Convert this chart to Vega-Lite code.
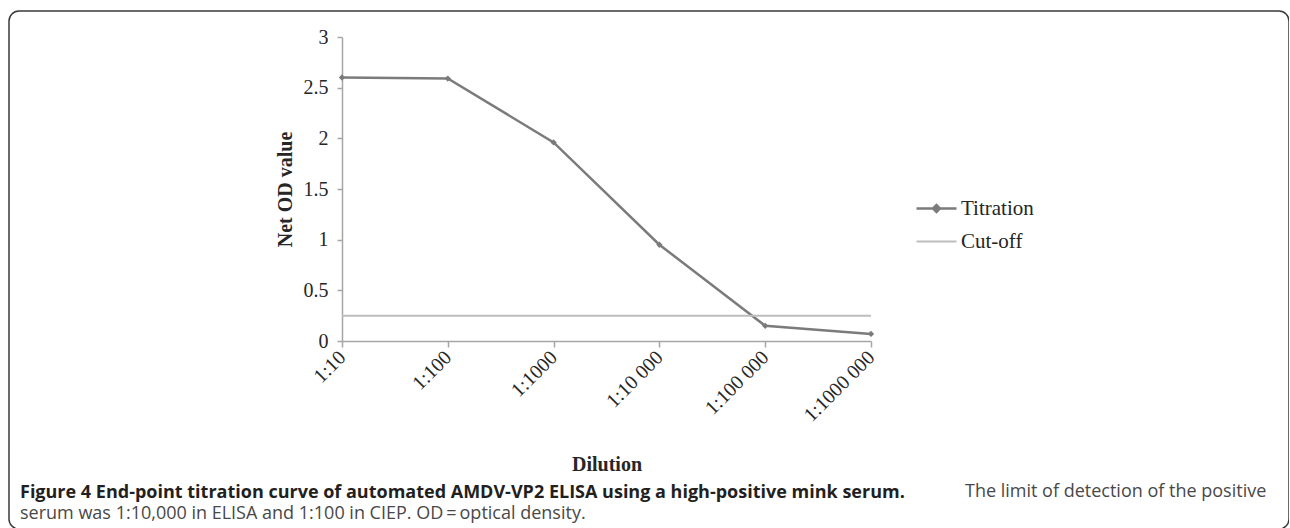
{
  "$schema": "https://vega.github.io/schema/vega-lite/v6.json",
  "width": 1280,
  "height": 518,
  "autosize": {"type": "none"},
  "padding": {"left": 9, "top": 11, "right": 0, "bottom": 0},
  "background": "white",
  "config": {
    "view": {"stroke": "#3a3a3a", "strokeWidth": 1.5, "cornerRadius": 10},
    "axis": {
      "grid": false,
      "domainColor": "#a6a6a6",
      "domainWidth": 1.5,
      "tickColor": "#a6a6a6",
      "tickWidth": 1.5,
      "tickSize": 6,
      "labelFont": "Liberation Serif",
      "labelFontSize": 20,
      "labelColor": "#262626",
      "titleFont": "Liberation Serif",
      "titleFontSize": 20,
      "titleFontWeight": "bold",
      "titleColor": "#262626"
    }
  },
  "title": {
    "text": "Figure 4 End-point titration curve of automated AMDV-VP2 ELISA using a high-positive mink serum.",
    "subtitle": [
      "\u200b\u2003\u2003\u2003\u2003\u2003\u2003\u2003\u2003\u2003\u2003\u2003\u2003\u2003\u2003\u2003\u2003\u2003\u2003\u2003\u2003\u2003\u2003\u2003\u2003\u2003\u2003\u2003\u2003\u2003\u2003\u2003\u2003\u2003\u2003\u2003\u2003\u2003\u2003\u2003\u2003\u2003\u2003\u2003\u2003\u2003\u2003\u2003\u2003\u2003\u2003\u2003\u2003\u2002The limit of detection of the positive",
      "serum was 1:10,000 in ELISA and 1:100 in CIEP. OD\u2009=\u2009optical density."
    ],
    "orient": "bottom",
    "anchor": "start",
    "frame": "group",
    "offset": -45,
    "dx": 11,
    "font": "Open Sans",
    "fontSize": 18,
    "fontWeight": "bold",
    "color": "#231f20",
    "lineHeight": 22,
    "subtitleFont": "Open Sans",
    "subtitleFontSize": 18,
    "subtitleFontWeight": "normal",
    "subtitleColor": "#484848",
    "subtitleLineHeight": 22,
    "subtitlePadding": -19
  },
  "data": {
    "values": [
      {"dilution": "1:10", "series": "Titration", "od": 2.6},
      {"dilution": "1:100", "series": "Titration", "od": 2.59},
      {"dilution": "1:1000", "series": "Titration", "od": 1.96},
      {"dilution": "1:10 000", "series": "Titration", "od": 0.95},
      {"dilution": "1:100 000", "series": "Titration", "od": 0.15},
      {"dilution": "1:1000 000", "series": "Titration", "od": 0.07},
      {"dilution": "1:10", "series": "Cut-off", "od": 0.25},
      {"dilution": "1:100", "series": "Cut-off", "od": 0.25},
      {"dilution": "1:1000", "series": "Cut-off", "od": 0.25},
      {"dilution": "1:10 000", "series": "Cut-off", "od": 0.25},
      {"dilution": "1:100 000", "series": "Cut-off", "od": 0.25},
      {"dilution": "1:1000 000", "series": "Cut-off", "od": 0.25}
    ]
  },
  "encoding": {
    "x": {
      "field": "dilution",
      "type": "ordinal",
      "sort": ["1:10", "1:100", "1:1000", "1:10 000", "1:100 000", "1:1000 000"],
      "scale": {"type": "point", "range": [333, 862], "padding": 0},
      "axis": {
        "title": "Dilution",
        "offset": -188,
        "labelAngle": -45,
        "labelAlign": "right",
        "labelBaseline": "middle",
        "labelPadding": 7,
        "titleY": 123,
        "titleBaseline": "middle"
      }
    },
    "y": {
      "field": "od",
      "type": "quantitative",
      "scale": {"domain": [0, 3], "range": [330, 26]},
      "axis": {
        "title": "Net OD value",
        "offset": -333,
        "values": [0, 0.5, 1, 1.5, 2, 2.5, 3],
        "format": "~g",
        "labelPadding": 9,
        "tickSize": 5,
        "titlePadding": 8
      }
    },
    "color": {
      "field": "series",
      "type": "nominal",
      "scale": {"domain": ["Titration", "Cut-off"], "range": ["#7b7b7b", "#bdbdbd"]},
      "legend": {
        "orient": "none",
        "legendX": 917,
        "legendY": 187,
        "title": null,
        "labelFont": "Liberation Serif",
        "labelFontSize": 21,
        "labelColor": "#262626",
        "labelOffset": 14,
        "symbolSize": 1600,
        "symbolStrokeWidth": 2.5,
        "rowPadding": 11,
        "encode": {
          "symbols": {
            "update": {
              "shape": {"signal": "datum.value === 'Titration' ? 'M-1,0L1,0M-0.17,0L0,-0.17L0.17,0L0,0.17Z' : 'stroke'"},
              "fill": {"signal": "datum.value === 'Titration' ? '#7b7b7b' : 'transparent'"},
              "strokeWidth": {"signal": "datum.value === 'Titration' ? 2.5 : 2"}
            }
          }
        }
      }
    }
  },
  "layer": [
    {
      "transform": [{"filter": "datum.series === 'Titration'"}],
      "mark": {"type": "line", "strokeWidth": 2.5, "point": {"shape": "diamond", "size": 40, "filled": true}}
    },
    {
      "transform": [{"filter": "datum.series === 'Cut-off'"}],
      "mark": {"type": "line", "strokeWidth": 2}
    }
  ]
}
